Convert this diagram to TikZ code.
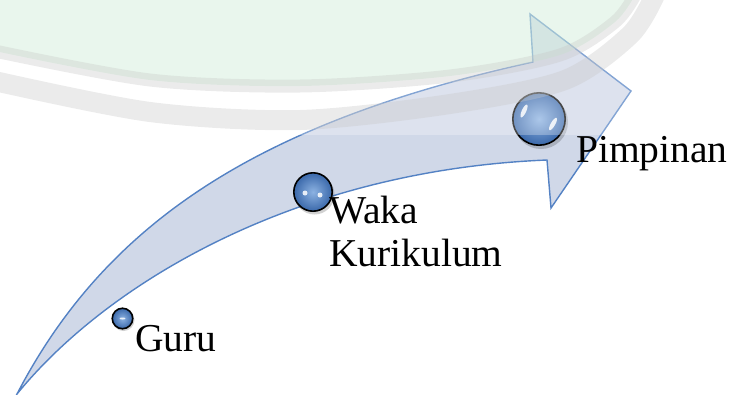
\documentclass[tikz,border=0pt]{standalone}
\usepackage{fontspec}
\setmainfont{Liberation Serif}
\definecolor{arrowfill}{RGB}{208,216,232}
\definecolor{arrowline}{RGB}{84,130,196}
\definecolor{ballcore}{RGB}{140,178,226}
\definecolor{ballrim}{RGB}{58,104,170}
\definecolor{markgreen}{RGB}{200,235,210}
\definecolor{markgrey}{RGB}{200,200,200}
\tikzset{
        % Balls sitting on the arrow
        ball/.style={circle, draw=black, line width=1.6pt, inner sep=0pt, inner color=ballcore, outer color=ballrim},
        % Soft shade under a ball
        ball_shadow/.style={circle, fill=black, opacity=0.18, inner sep=0pt},
        % White glints on a ball
        glint/.style={white, opacity=0.85},
        % Step labels
        step_label/.style={inner sep=0pt, anchor=base west, font=\fontsize{39.5}{43}\selectfont},
        % Faint stamp in the upper half
        stamp_band/.style={markgrey, opacity=0.35, line cap=butt}
}

\begin{document}
\begin{tikzpicture}[x=1pt, y=-1pt]
    \useasboundingbox (0,0) rectangle (731,394);

    % curved arrow
    \filldraw[fill=arrowfill, draw=arrowline, line width=1.4pt, line join=miter]
        (17,394) .. controls (110,215) and (270,120) .. (533,62)
        -- (530,14) -- (631,91) -- (551,208) -- (547,160)
        .. controls (300,170) and (110,280) .. (17,394) -- cycle;

    % balls
    \node[ball_shadow, minimum size=22pt] at (123.5,320) {};
    \node[ball, minimum size=20.5pt] (guru_ball) at (122.5,318.5) {};
    \node[ball_shadow, minimum size=40pt] at (314.5,194.5) {};
    \node[ball, minimum size=38.4pt] (waka_ball) at (313,192) {};
    \node[ball_shadow, minimum size=54pt] at (541,122) {};
    \node[ball, minimum size=52.4pt] (pimpinan_ball) at (539,119) {};

    \fill[glint] (guru_ball.center) ellipse [x radius=3, y radius=1];
    \fill[glint] (waka_ball.center) ++(-8,1) circle [radius=2.5];
    \fill[glint] (waka_ball.center) ++(7,3) circle [radius=2.5];
    \fill[glint] (pimpinan_ball.center) ++(-15,-8) ellipse [x radius=2.2, y radius=7, rotate=-25];
    \fill[glint] (pimpinan_ball.center) ++(14,5) ellipse [x radius=2.2, y radius=7, rotate=-30];

    % stamp over the top part
    \begin{scope}
        \clip (0,0) rectangle (731,135);
        \fill[white, opacity=0.28] (0,0) rectangle (731,135);
        \fill[markgreen, opacity=0.4] plot[smooth] coordinates
            {(-10,50) (150,80) (300,86) (450,76) (560,55) (615,22) (635,-5)}
            -- (-10,-5) -- cycle;
        \draw[stamp_band, line width=13pt] plot[smooth] coordinates
            {(-10,50) (150,80) (300,86) (450,76) (560,55) (615,22) (635,-5)};
        \draw[stamp_band, line width=20pt] plot[smooth] coordinates
            {(-10,80) (150,112) (300,120) (450,104) (565,80) (630,35) (655,-5)};
    \end{scope}

    % labels
    \node[step_label] (guru) at (135,351) {Guru};
    \node[step_label] (waka) at (329,223) {Waka};
    \node[step_label] (kurikulum) at ([yshift=-43pt]waka.base west) {Kurikulum};
    \node[step_label] (pimpinan) at (576,162) {Pimpinan};
\end{tikzpicture}
\end{document}
